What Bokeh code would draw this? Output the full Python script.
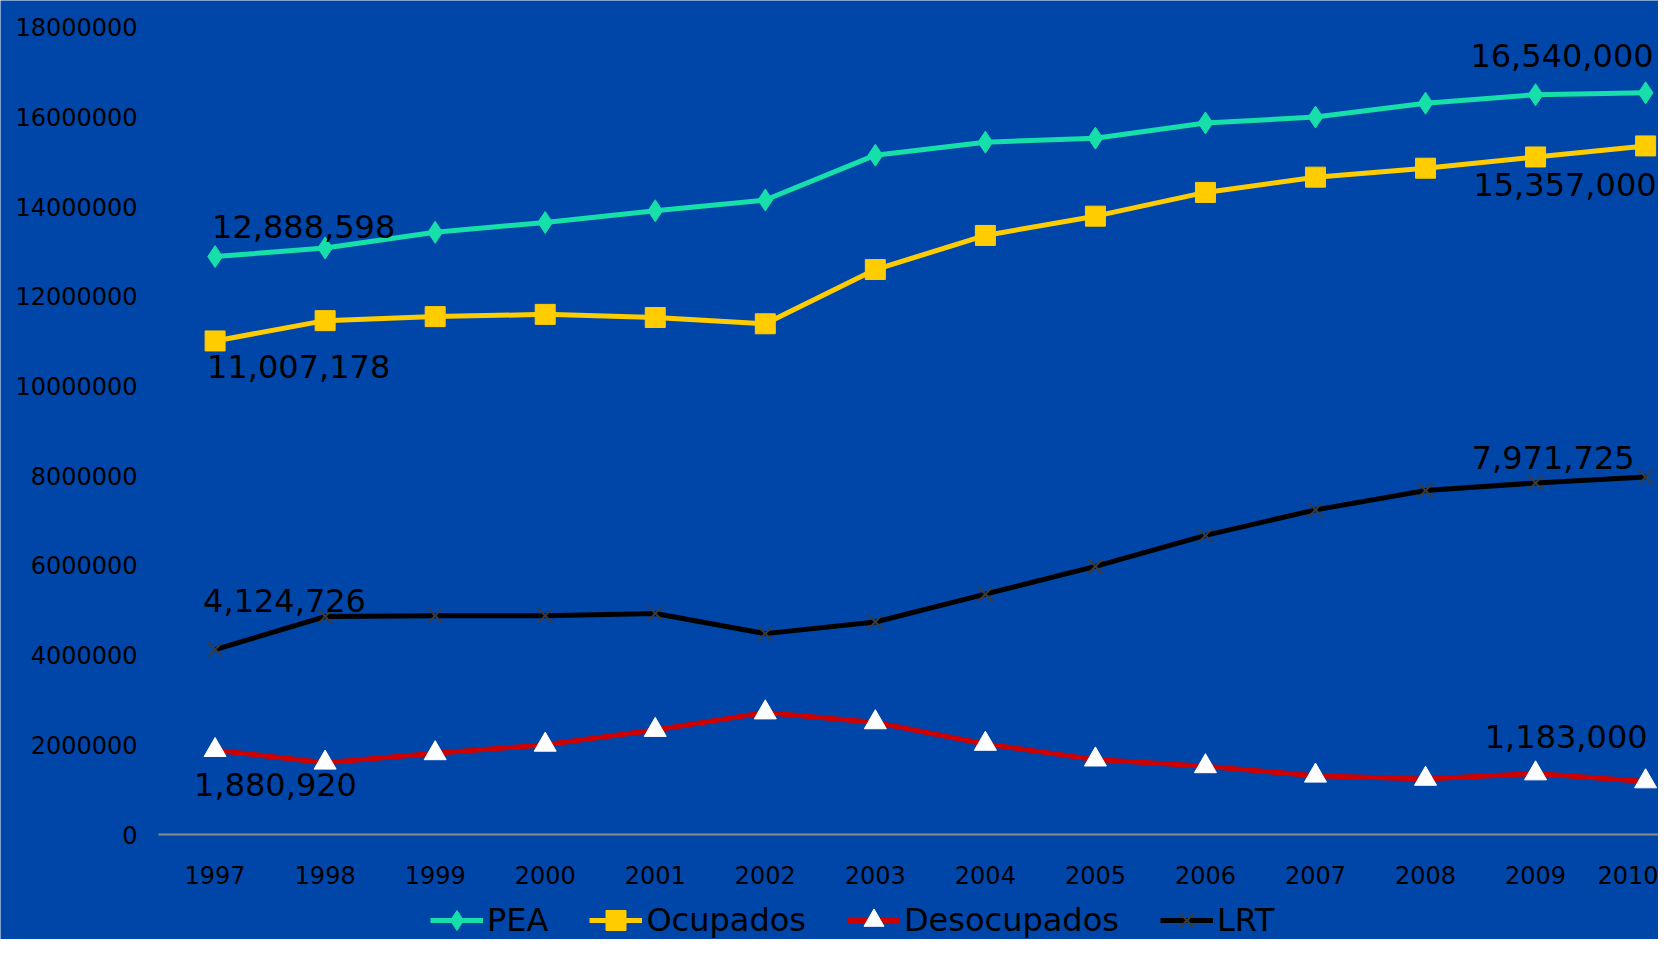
from bokeh.plotting import figure
from bokeh.models import Range1d, FixedTicker, Legend, LegendItem, CustomJSTickFormatter
from bokeh.core.properties import value
from bokeh.embed import file_html
from bokeh.resources import INLINE

years = [1997, 1998, 1999, 2000, 2001, 2002, 2003, 2004, 2005, 2006, 2007, 2008, 2009, 2010]
pea = [12888598, 13080000, 13430000, 13650000, 13910000, 14150000, 15150000, 15440000,
       15530000, 15870000, 16000000, 16310000, 16500000, 16540000]
ocupados = [11007178, 11460000, 11550000, 11600000, 11530000, 11390000, 12600000, 13360000,
            13790000, 14320000, 14660000, 14860000, 15110000, 15357000]
desocupados = [1880920, 1600000, 1810000, 2000000, 2330000, 2720000, 2500000, 2020000,
               1670000, 1520000, 1310000, 1240000, 1360000, 1183000]
lrt = [4124726, 4860000, 4880000, 4880000, 4930000, 4480000, 4740000, 5360000,
       5980000, 6670000, 7240000, 7670000, 7840000, 7971725]
y_ticks = [0, 2000000, 4000000, 6000000, 8000000, 10000000, 12000000, 14000000, 16000000, 18000000]

BG = "#0046A8"
FONT = "DejaVu Sans"
X_AXIS_START = 1996.486

p = figure(width=1658, height=939, output_backend="svg", toolbar_location=None,
           x_range=Range1d(1995.0498, 2010.1171), y_range=Range1d(-2341700, 18599900),
           min_border=0, background_fill_color=BG, border_fill_color=BG,
           outline_line_color=None)
p.xgrid.visible = False
p.ygrid.visible = False

p.xaxis.fixed_location = 0
p.xaxis.bounds = (X_AXIS_START, 2010.2)
p.xaxis.ticker = FixedTicker(ticks=years)
p.xaxis.formatter = CustomJSTickFormatter(code="return tick.toFixed(0);")
p.xaxis.axis_line_color = "#8C8C8C"
p.xaxis.axis_line_width = 2
p.xaxis.major_tick_line_color = None
p.xaxis.minor_tick_line_color = None
p.xaxis.major_label_standoff = 25
p.xaxis.major_label_text_font = FONT
p.xaxis.major_label_text_font_size = "24px"
p.xaxis.major_label_text_color = "black"

p.yaxis.fixed_location = X_AXIS_START
p.yaxis.bounds = (0, 18000000)
p.yaxis.ticker = FixedTicker(ticks=y_ticks)
p.yaxis.formatter = CustomJSTickFormatter(code="return tick.toFixed(0);")
p.yaxis.axis_line_color = None
p.yaxis.major_tick_line_color = None
p.yaxis.minor_tick_line_color = None
p.yaxis.major_label_standoff = 15
p.yaxis.major_label_text_font = FONT
p.yaxis.major_label_text_font_size = "24px"
p.yaxis.major_label_text_color = "black"

TEAL = "#16DFAA"
GOLD = "#FFCC00"
RED = "#CC0000"

l1 = p.line(years, pea, line_color=TEAL, line_width=5)
m1 = p.scatter(years, pea, marker="diamond", size=22, fill_color=TEAL, line_color=TEAL)
l2 = p.line(years, ocupados, line_color=GOLD, line_width=5)
m2 = p.scatter(years, ocupados, marker="square", size=20, fill_color=GOLD, line_color=GOLD)
l3 = p.line(years, desocupados, line_color=RED, line_width=5)
m3 = p.scatter(years, desocupados, marker="triangle", size=22, fill_color="white", line_color="white")
l4 = p.line(years, lrt, line_color="black", line_width=5)
m4 = p.scatter(years, lrt, marker="x", size=20, line_color="#3C3C3C", line_width=2)

def lab(x, y, txt, align, xo, yo):
    p.text(x=[x], y=[y], text=[txt], text_font=value(FONT), text_font_size="32px",
           text_color="black", text_align=align, text_baseline="middle",
           x_offset=xo, y_offset=yo)

lab(years[0], pea[0], "12,888,598", "left", -3, -30)
lab(years[0], ocupados[0], "11,007,178", "left", -8, 26)
lab(years[0], lrt[0], "4,124,726", "left", -12, -49)
lab(years[0], desocupados[0], "1,880,920", "left", -21, 34)
lab(years[-1], pea[-1], "16,540,000", "right", 8, -37)
lab(years[-1], ocupados[-1], "15,357,000", "right", 11, 39)
lab(years[-1], lrt[-1], "7,971,725", "right", -11, -20)
lab(years[-1], desocupados[-1], "1,183,000", "right", 2, -45)

legend = Legend(items=[LegendItem(label="PEA", renderers=[l1, m1]),
                       LegendItem(label="Ocupados", renderers=[l2, m2]),
                       LegendItem(label="Desocupados", renderers=[l3, m3]),
                       LegendItem(label="LRT", renderers=[l4, m4])],
                orientation="horizontal", location=(430, -6),
                background_fill_alpha=0, border_line_color=None,
                label_text_font=FONT, label_text_font_size="32px", label_text_color="black",
                glyph_width=53, glyph_height=50, label_standoff=4, spacing=41,
                padding=0, margin=0)
p.add_layout(legend, "center")

open("out.html", "w").write(file_html(p, INLINE))
